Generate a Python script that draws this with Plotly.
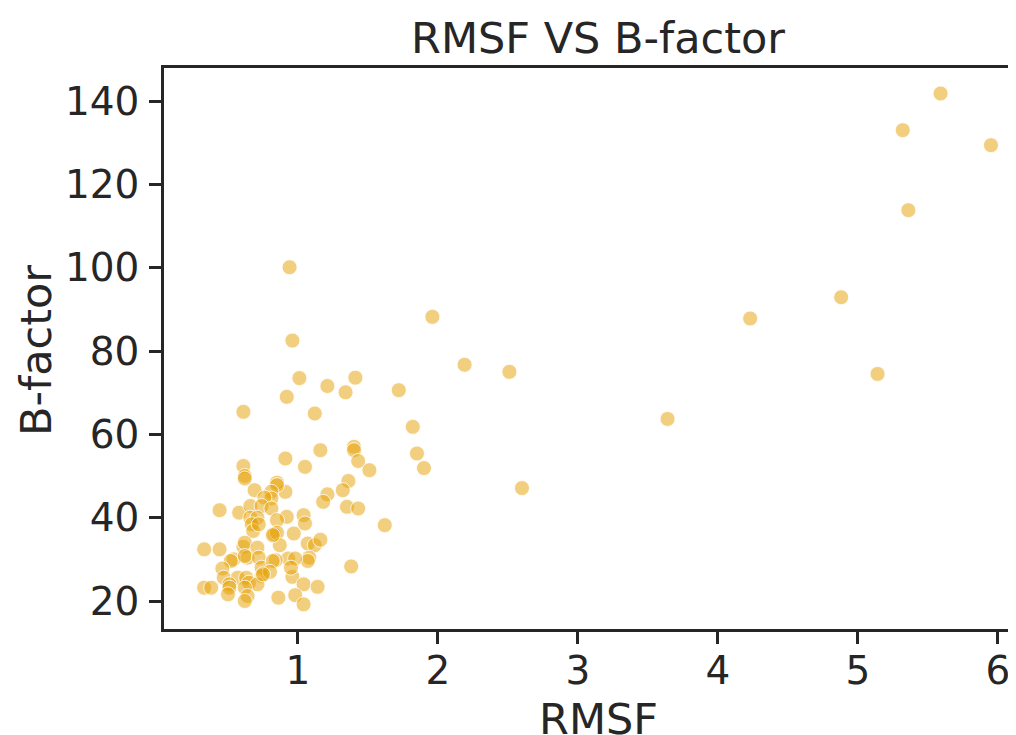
import plotly.graph_objects as go

rmsf = [5.59, 5.32, 5.95, 5.36, 4.88, 4.23, 5.14, 3.64, 2.60, 0.94,
        1.96, 0.96, 2.19, 2.51, 1.01, 1.41, 1.21, 1.34, 1.72, 0.92,
        1.12, 1.82, 0.61, 1.40, 1.40, 1.16, 1.43, 1.85, 0.91, 1.05,
        1.51, 1.90, 1.36, 1.32, 1.21, 1.18, 1.35, 1.43, 0.91, 1.62,
        1.04, 1.05, 0.92, 0.97, 1.07, 1.12, 1.16, 1.08, 1.07, 0.93,
        0.98, 0.96, 1.04, 1.14, 0.98, 1.04, 1.38, 0.61, 0.62, 0.62,
        0.69, 0.85, 0.85, 0.81, 0.81, 0.76, 0.44, 0.58, 0.66, 0.74,
        0.81, 0.66, 0.71, 0.67, 0.68, 0.72, 0.85, 0.83, 0.85, 0.87,
        0.33, 0.44, 0.61, 0.62, 0.71, 0.82, 0.54, 0.52, 0.64, 0.62,
        0.72, 0.74, 0.74, 0.84, 0.82, 0.95, 0.80, 0.46, 0.47, 0.57,
        0.63, 0.65, 0.71, 0.33, 0.38, 0.51, 0.51, 0.50, 0.62, 0.64,
        0.62, 0.86, 0.75]
bfactor = [141.8, 133.0, 129.4, 113.8, 92.9, 87.8, 74.5, 63.7, 47.1, 100.1,
           88.2, 82.5, 76.7, 75.0, 73.5, 73.6, 71.6, 70.1, 70.6, 69.0,
           65.0, 61.8, 65.4, 57.0, 56.2, 56.2, 53.6, 55.4, 54.2, 52.2,
           51.4, 51.9, 48.8, 46.6, 45.6, 43.8, 42.6, 42.2, 46.2, 38.2,
           40.6, 38.6, 40.2, 36.2, 33.8, 33.4, 34.7, 30.4, 29.6, 30.2,
           30.2, 25.8, 24.0, 23.4, 21.4, 19.2, 28.3, 52.4, 50.0, 49.4,
           46.6, 48.4, 47.8, 46.2, 44.6, 44.8, 41.8, 41.2, 42.8, 42.8,
           42.2, 40.0, 40.0, 38.4, 36.8, 38.4, 39.4, 36.0, 36.4, 33.4,
           32.4, 32.4, 33.0, 34.0, 32.8, 35.8, 30.0, 29.6, 30.4, 30.8,
           30.4, 28.0, 26.0, 29.8, 29.6, 28.0, 27.0, 27.8, 25.6, 25.6,
           25.6, 24.4, 24.0, 23.2, 23.2, 24.0, 23.2, 21.6, 23.2, 21.2,
           20.0, 20.8, 26.4]

x_ticks = [1, 2, 3, 4, 5, 6]
y_ticks = [20, 40, 60, 80, 100, 120, 140]

TXT = "#262626"
FONT = "DejaVu Sans"
OFF = 7            # page offset of the figure inside the html page
W, H = 1016 - OFF, 735 - OFF
pl, pr, pt, pb = 163 - OFF, W, 67 - OFF, 628 - OFF   # plot-area edges in figure px

def fx(px):  # page px -> paper x
    return (px - OFF - pl) / (pr - pl)

def fy(py):  # page px -> paper y
    return (pb - (py - OFF)) / (pb - pt)

fig = go.Figure()
fig.add_trace(go.Scatter(
    x=rmsf, y=bfactor, mode="markers",
    marker=dict(size=15, color="rgba(230,159,0,0.5)",
                line=dict(color="rgba(255,255,255,0.8)", width=1)),
    showlegend=False, cliponaxis=False,
))

fig.update_layout(
    width=W, height=H,
    margin=dict(l=pl, r=W - pr, t=pt, b=H - pb, autoexpand=False),
    paper_bgcolor="white", plot_bgcolor="white",
    font=dict(family=FONT, color=TXT, size=39),
    xaxis=dict(
        range=[0.043, 6.136], tickvals=x_ticks, ticktext=[str(v) for v in x_ticks],
        showgrid=False, zeroline=False, automargin=False,
        showline=True, linecolor=TXT, linewidth=2.5, mirror=True,
        ticks="outside", ticklen=12, tickwidth=2.5, tickcolor=TXT,
        ticklabelstandoff=-7,
        tickfont=dict(family=FONT, size=39, color=TXT),
    ),
    yaxis=dict(
        range=[13.28, 147.92], tickvals=y_ticks, ticktext=[str(v) for v in y_ticks],
        showgrid=False, zeroline=False, automargin=False,
        showline=True, linecolor=TXT, linewidth=2.5, mirror=False,
        ticks="outside", ticklen=12, tickwidth=2.5, tickcolor=TXT,
        ticklabelstandoff=2,
        tickfont=dict(family=FONT, size=39, color=TXT),
    ),
    annotations=[
        dict(text="RMSF VS B-factor", x=fx(597), y=fy(37), xref="paper", yref="paper",
             xanchor="center", yanchor="middle", showarrow=False,
             font=dict(family=FONT, size=43, color=TXT)),
        dict(text="RMSF", x=fx(597), y=fy(718), xref="paper", yref="paper",
             xanchor="center", yanchor="middle", showarrow=False,
             font=dict(family=FONT, size=43, color=TXT)),
        dict(text="B-factor", x=fx(35), y=fy(350), xref="paper", yref="paper",
             xanchor="center", yanchor="middle", showarrow=False, textangle=-90,
             font=dict(family=FONT, size=43, color=TXT)),
    ],
)

fig.write_html("out.html")
